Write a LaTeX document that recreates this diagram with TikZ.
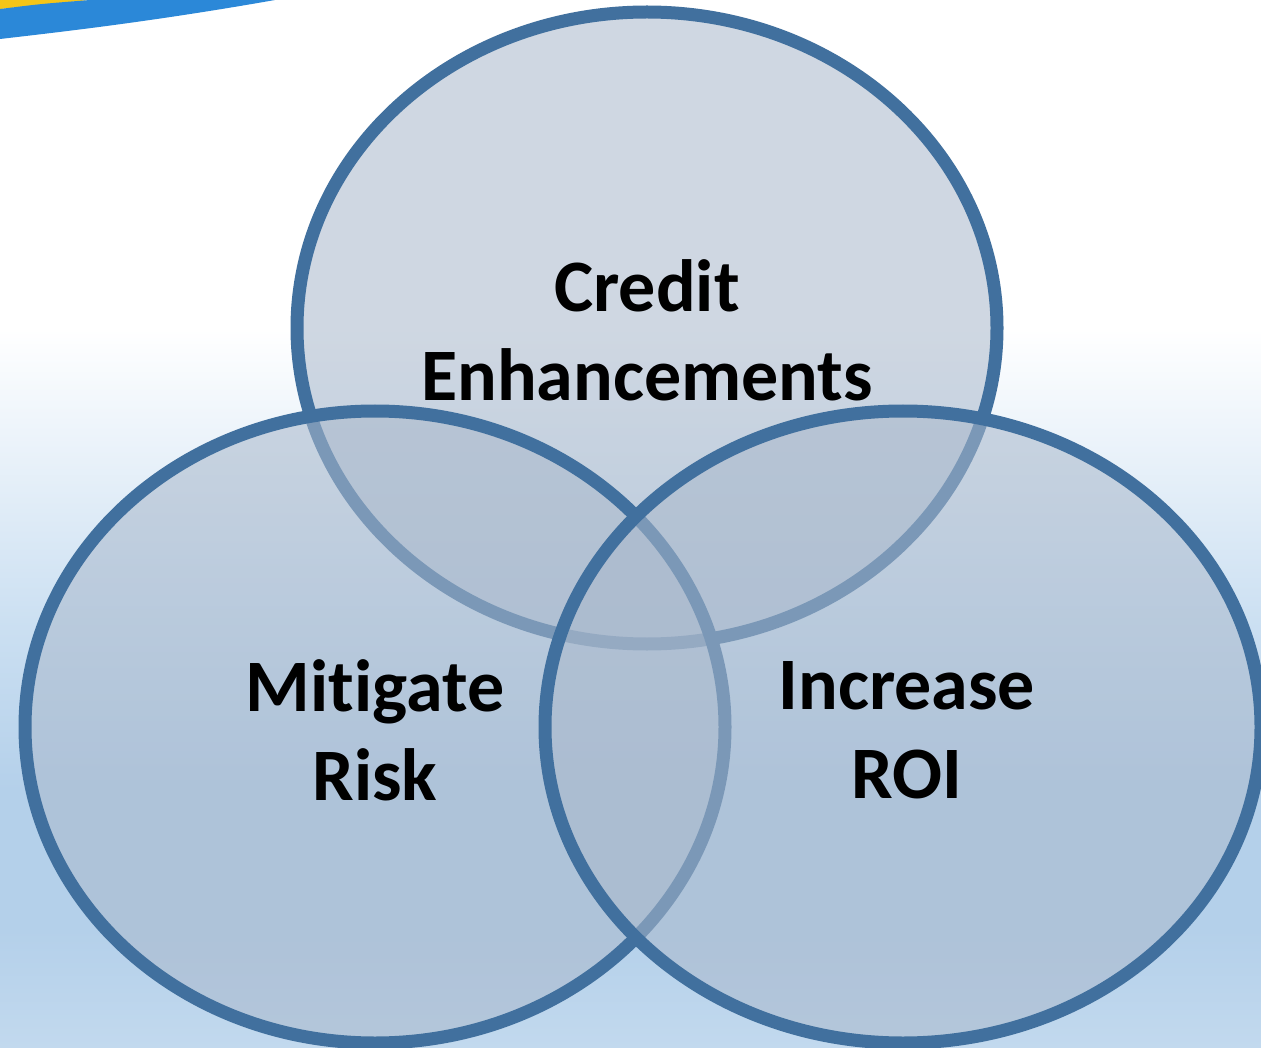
\documentclass[tikz,border=0pt]{standalone}
\usepackage{fontspec}
\setmainfont{Carlito}[RawFeature={-liga;-clig;-calt;-dlig}]
\definecolor{ringblue}{RGB}{65,112,158}
\definecolor{ringfill}{RGB}{170,185,204}
\definecolor{bgA}{RGB}{255,255,255}
\definecolor{bgB}{RGB}{204,224,242}
\definecolor{bgC}{RGB}{180,208,234}
\definecolor{bgD}{RGB}{194,217,238}
\definecolor{swblue}{RGB}{43,136,216}
\definecolor{swyellow}{RGB}{245,197,24}
\tikzset{
  ring/.style={draw=ringblue, line width=13pt, fill=ringfill, fill opacity=0.56, draw opacity=1},
  lbl/.style={font=\bfseries\fontsize{74}{89}\selectfont, align=center, text=black, inner sep=0pt}
}
\begin{document}
\begin{tikzpicture}[x=1pt,y=-1pt]
\useasboundingbox (0,0) rectangle (1261,1048);
% background
\fill[bgA] (0,0) rectangle (1261,330);
\shade[top color=bgA, bottom color=bgB] (0,329) rectangle (1261,620);
\shade[top color=bgB, bottom color=bgC] (0,619) rectangle (1261,790);
\fill[bgC] (0,789) rectangle (1261,930);
\shade[top color=bgC, bottom color=bgD] (0,929) rectangle (1261,1048);
% top-left swoosh
\fill[swyellow] (0,0) -- (90,0) -- (0,9) -- cycle;
\fill[swblue] (0,9) .. controls (40,4) .. (90,0) -- (275,0) .. controls (150,22) and (60,32) .. (0,39) -- cycle;
% circles
\draw[ring] (647,328) ellipse [x radius=350pt, y radius=316pt];
\draw[ring] (375,727) ellipse [x radius=350pt, y radius=316pt];
\draw[ring] (903,727) ellipse [x radius=358pt, y radius=316pt];
% labels
\node[lbl] (credit) at (647,330) {Credit\\Enhancements};
\node[lbl] (risk) at (375,730) {Mit\kern0pt igate\\Risk};
\node[lbl] (roi) at (907,730) {Increase\\ROI};
\end{tikzpicture}
\end{document}
